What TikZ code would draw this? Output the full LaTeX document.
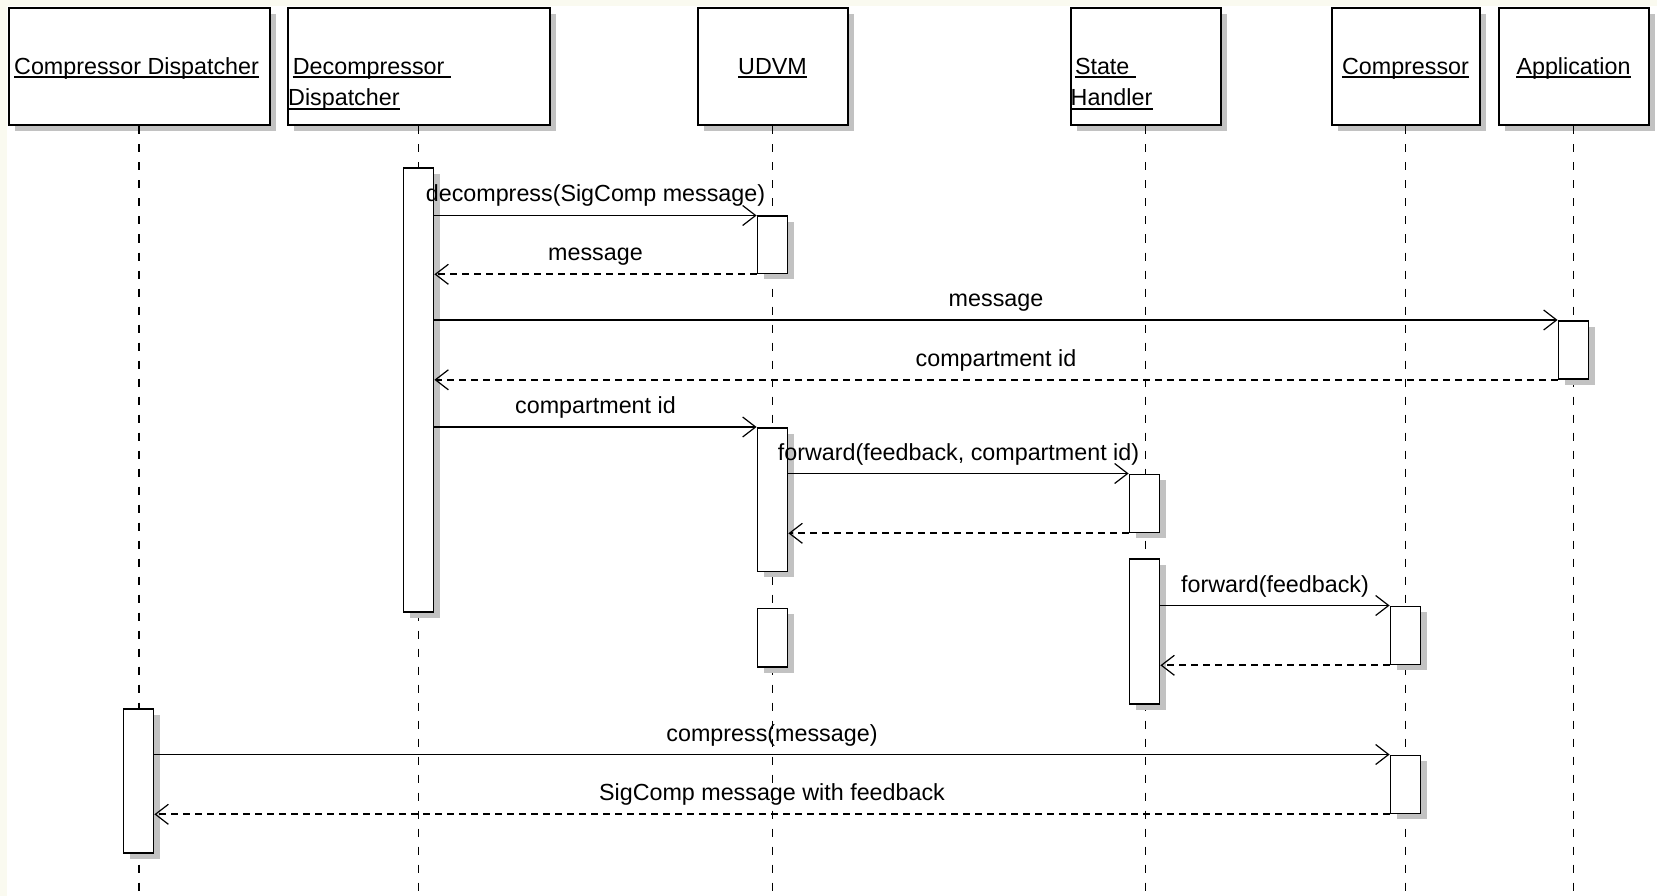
\documentclass[tikz,border=0pt]{standalone}
\usepackage{fontspec}
\setmainfont{Liberation Sans}
\usetikzlibrary{arrows.meta,shadows}
\definecolor{paper}{RGB}{250,250,240}
\definecolor{shade}{RGB}{194,194,194}
\begin{document}
\begin{tikzpicture}[x=1pt,y=-1pt,
  every node/.style={font=\fontsize{23.3}{28}\selectfont},
  sdw/.style={drop shadow={shadow xshift=6pt,shadow yshift=-6pt,fill=shade,opacity=1}},
  head/.style={draw,line width=2pt,fill=white,inner sep=0pt,
    minimum width=#1,minimum height=117.5pt,anchor=north,sdw},
  bar/.style={draw,line width=1.8pt,fill=white,inner sep=0pt,
    minimum width=30pt,minimum height=#1,anchor=north,sdw},
  htxt/.style={inner sep=0pt,anchor=base west},
  uline/.style={line width=1.6pt},
  life/.style={line width=1.4pt,dash pattern=on 8pt off 10pt},
  call/.style={line width=1.7pt,-{Straight Barb[length=13pt,width=20pt,line width=1.2pt]}},
  ret/.style={call,dash pattern=on 7pt off 5pt},
  lbl/.style={midway,anchor=base,inner sep=0pt,yshift=13.5pt}]

% page: white sheet with a pale strip along the top and left edges
\useasboundingbox (0,0) rectangle (1657,896);
\fill[white] (0,0) rectangle (1657,896);
\fill[paper] (0,0) rectangle (1657,6);
\fill[paper] (0,0) rectangle (7,896);
\coordinate (bottom) at (0,894);

% object heads
\node[head=261pt] (hcd) at (139,7) {};
\node[head=262pt] (hdd) at (418.5,7) {};
\node[head=150pt] (hud) at (772.5,7) {};
\node[head=150pt] (hsh) at (1145.5,7) {};
\node[head=148pt] (hco) at (1405.5,7) {};
\node[head=150pt] (hap) at (1573.5,7) {};

% head captions
\node[htxt] (tcd) at (14,74.3) {Compressor Dispatcher};
\node[htxt] (tdd1) at (292.7,74.3) {Decompressor\kern6pt};
\node[htxt] (tdd2) at (288,106) {Dispatcher};
\node[htxt,anchor=base] (tud) at (772.5,74.3) {UDVM};
\node[htxt] (tsh1) at (1074.8,74.3) {State\kern6pt};
\node[htxt] (tsh2) at (1070.5,106) {Handler};
\node[htxt,anchor=base] (tco) at (1405.5,74.3) {Compressor};
\node[htxt,anchor=base] (tap) at (1573.5,74.3) {Application};
\foreach \t in {tcd,tdd1,tdd2,tud,tsh1,tsh2,tco,tap}
  \draw[uline] ([yshift=-2.8pt]\t.base west) -- ([yshift=-2.8pt]\t.base east);

% lifelines
\foreach \h in {hcd,hdd,hud,hsh,hco,hap}
  \draw[life] (\h.south) -- (\h.south |- bottom);

% activation bars
\node[bar=444pt]   (dd1)  at (418.5,167) {};
\node[bar=57pt]    (u1)   at (772.5,215.5) {};
\node[bar=58pt]    (app1) at (1573.5,320) {};
\node[bar=143.5pt] (u2)   at (772.5,427) {};
\node[bar=58pt]    (sh1)  at (1144.5,473.5) {};
\node[bar=145pt]   (sh2)  at (1144.5,558) {};
\node[bar=58.5pt]  (u3)   at (772.5,607.5) {};
\node[bar=58pt]    (c1)   at (1405.5,605.5) {};
\node[bar=144pt]   (cd1)  at (138.5,708) {};
\node[bar=58pt]    (c2)   at (1405.5,754.5) {};

% messages
\draw[call] (dd1.east |- u1.north) -- node[lbl] (l1) {decompress(SigComp message)} (u1.north west);
\draw[ret] (u1.south west) -- node[lbl] (l2) {message} (dd1.east |- u1.south);
\draw[call] (dd1.east |- app1.north) -- node[lbl] (l3) {message} (app1.north west);
\draw[ret] (app1.south west) -- node[lbl] (l4) {compartment id} (dd1.east |- app1.south);
\draw[call] (dd1.east |- u2.north) -- node[lbl] (l5) {compartment id} (u2.north west);
\draw[call] (u2.east |- sh1.north) -- node[lbl] (l6) {forward(feedback, compartment id)} (sh1.north west);
\draw[ret] (sh1.south west) -- (u2.east |- sh1.south);
\draw[call] (sh2.east |- c1.north) -- node[lbl] (l7) {forward(feedback)} (c1.north west);
\draw[ret] (c1.south west) -- (sh2.east |- c1.south);
\draw[call] (cd1.east |- c2.north) -- node[lbl] (l8) {compress(message)} (c2.north west);
\draw[ret] (c2.south west) -- node[lbl] (l9) {SigComp message with feedback} (cd1.east |- c2.south);
\end{tikzpicture}
\end{document}
